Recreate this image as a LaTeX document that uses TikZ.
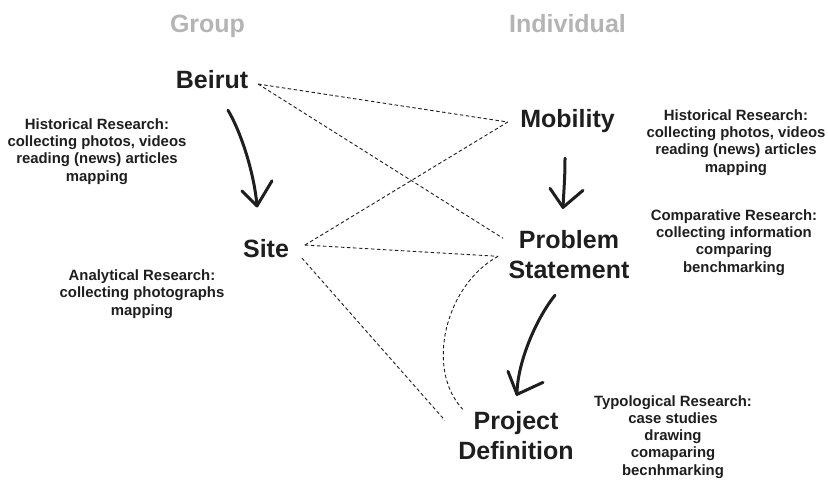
\documentclass[tikz,border=0pt]{standalone}
\usepackage{fontspec}
\setmainfont{Liberation Sans}
\usepackage{xcolor}
\usepackage{tikz}
\usetikzlibrary{calc}
\usetikzlibrary{positioning}
\definecolor{headgray}{HTML}{B4B4B4}
\definecolor{inkblack}{HTML}{1E1E1E}

\begin{document}
\begin{tikzpicture}[x=1pt, y=-1pt,
        every node/.style={inner sep=0pt, 
        outer sep=0pt, 
        text=inkblack},
        head/.style={font=\fontsize{25}{30}\selectfont\bfseries, text=headgray, anchor=base},
        stage/.style={font=\fontsize{25}{29.5}\selectfont\bfseries, align=center, anchor=base},
        note/.style={font=\fontsize{14.9}{17.2}\selectfont\bfseries, align=center, anchor=base},
        link/.style={draw=inkblack, line width=0.9pt, dash pattern=on 3.5pt off 2.5pt},
        flow/.style={draw=inkblack, line width=3pt, line cap=round, line join=round}]
        \useasboundingbox (0,0) rectangle (828,482);
        \node[head] at (207.5,32) (group) {Group};
        \node[head] at (567.5,32) (individual) {Individual};
        \node[stage] at (212,88) (beirut) {Beirut};
        \node[stage] at (567.5,127) (mobility) {Mobility};
        \node[stage] at (266,257) (site) {Site};
        \node[stage] at (569,278) (problem) {Problem\\Statement};
        \node[stage] at (516,459) (project) {Project\\Definition};
        \node[note] at (97,181) (histgroup) {Historical Research:\\collecting photos, videos\\reading (news) articles\\mapping};
        \node[note] at (142,315) (analysis) {Analytical Research:\\collecting photographs\\mapping};
        \node[note] at (736,172) (histindividual) {Historical Research:\\collecting photos, videos\\reading (news) articles\\mapping};
        \node[note] at (734,272) (compare) {Comparative Research:\\collecting information\\comparing\\benchmarking};
        \node[note] at (673,475) (typology) {Typological Research:\\case studies\\drawing\\comaparing\\becnhmarking};
        \draw[link] ([shift={(10,5)}]beirut.east) -- ([shift={(-12.5,1.5)}]mobility.west);
        \draw[link] ([shift={(10,5)}]beirut.east) -- ([shift={(-5.5,-16)}]problem.west);
        \draw[link] ([shift={(16,-3)}]site.east) -- ([shift={(-12.5,1.5)}]mobility.west);
        \draw[link] ([shift={(16,-3)}]site.east) -- ([shift={(-10.5,2)}]problem.west);
        \draw[link] ([shift={(13,10)}]site.east) -- ([shift={(-13.5,-15)}]project.west);
        \draw[link] ([shift={(-10.5,2)}]problem.west) .. controls +(-53,29) and +(-38,-40) .. ([shift={(4.5,-2)}]project.north west);
        \coordinate (tipsite) at ([shift={(-9,-33)}]site.north);
        \coordinate (tipproblem) at ([shift={(-6,-23)}]problem.north);
        \coordinate (tipproject) at ([shift={(1,-17)}]project.north);
        \draw[flow] ([shift={(16,22)}]beirut.south) .. controls +(12,20) and +(-3,-35) .. (tipsite);
        \draw[flow] ($(tipsite)+(-15,-15)$) -- (tipsite) -- ($(tipsite)+(15,-25)$);
        \draw[flow] ([shift={(-2.5,26)}]mobility.south) .. controls +(0,20) and +(1,-20) .. (tipproblem);
        \draw[flow] ($(tipproblem)+(-13,-19)$) -- (tipproblem) -- ($(tipproblem)+(20,-17)$);
        \draw[flow] ([shift={(-14,17)}]problem.south) .. controls +(-20,25) and +(0,-30) .. (tipproject);
        \draw[flow] ($(tipproject)+(-9,-23)$) -- (tipproject) -- ($(tipproject)+(26,-12)$);
    \end{tikzpicture}
\end{document}
